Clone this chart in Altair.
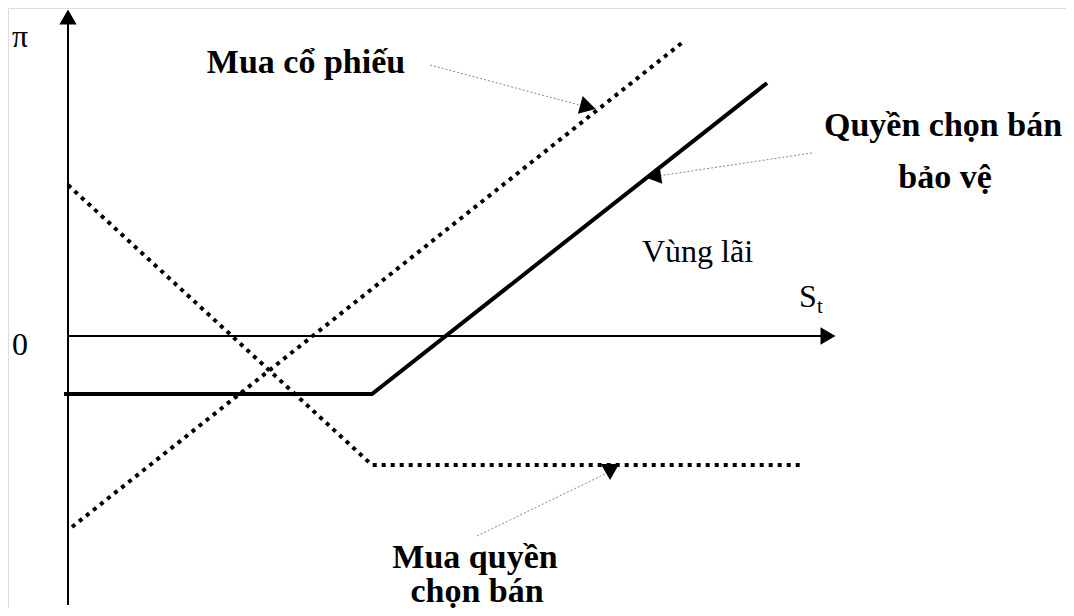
import altair as alt
import pandas as pd

# Coordinates: origin at axis intersection, 1 unit ~ 1 px
prot_x = [-4, 304, 699]
prot_y = [-58, -58, 253]
stock_x = [4, 615]
stock_y = [-191, 294]
put_x = [0, 304, 732]
put_y = [151, -129, -129]

yaxis_x = [0, 0]
yaxis_y = [-269, 312]
xaxis_x = [0, 754]
xaxis_y = [0, 0]

ann1_x = [362, 515]
ann1_y = [271, 230]
ann2_x = [744, 590]
ann2_y = [183, 160]
ann3_x = [409, 537]
ann3_y = [-200, -138]

head_x = [0, 760, 520, 585, 542]
head_y = [319, 0, 229, 160, -136]
head_shape = ["triangle-up", "triangle-right", "triangle-up", "triangle-up", "triangle-down"]
head_angle = [0, 0, 105, 261, 0]
head_size = [300, 300, 340, 340, 340]

bold_text = ["Mua cổ phiếu", "Quyền chọn bán", "bảo vệ", "Mua quyền", "chọn bán"]
bold_x = [238, 875, 877, 407, 409]
bold_y = [263, 200, 148, -232, -266]

reg_text = ["π", "0", "Vùng lãi", "S"]
reg_x = [-48, -48, 574, 740]
reg_y = [289, -19, 74, 29]
reg_align = ["center", "center", "left", "center"]

sub_text = ["t"]
sub_x = [749]
sub_y = [23]

X = alt.Scale(domain=[-60, 998])
Y = alt.Scale(domain=[-272, 328])


def line_df(xs, ys):
    return pd.DataFrame({"x": xs, "y": ys, "o": list(range(len(xs)))})


def line_layer(xs, ys, **kw):
    return alt.Chart(line_df(xs, ys)).mark_line(**kw).encode(
        x=alt.X("x:Q", scale=X, axis=None),
        y=alt.Y("y:Q", scale=Y, axis=None),
        order="o:Q",
    )


layers = []
layers.append(line_layer(yaxis_x, yaxis_y, color="black", strokeWidth=2))
layers.append(line_layer(xaxis_x, xaxis_y, color="black", strokeWidth=2))
layers.append(line_layer(prot_x, prot_y, color="black", strokeWidth=4, strokeJoin="miter"))
layers.append(line_layer(stock_x, stock_y, color="black", strokeWidth=4, strokeDash=[4, 5]))
layers.append(line_layer(put_x, put_y, color="black", strokeWidth=4, strokeDash=[4, 5]))
for ax, ay in [(ann1_x, ann1_y), (ann2_x, ann2_y), (ann3_x, ann3_y)]:
    layers.append(line_layer(ax, ay, color="#888888", strokeWidth=1, strokeDash=[2, 2]))

heads = pd.DataFrame({"x": head_x, "y": head_y, "shape": head_shape,
                      "angle": head_angle, "size": head_size})
layers.append(
    alt.Chart(heads).mark_point(filled=True, color="black", opacity=1).encode(
        x=alt.X("x:Q", scale=X, axis=None),
        y=alt.Y("y:Q", scale=Y, axis=None),
        shape=alt.Shape("shape:N", scale=None, legend=None),
        angle=alt.Angle("angle:Q", scale=None),
        size=alt.Size("size:Q", scale=None, legend=None),
    )
)

bold_df = pd.DataFrame({"x": bold_x, "y": bold_y, "t": bold_text})
layers.append(
    alt.Chart(bold_df).mark_text(font="Liberation Serif", fontWeight="bold", fontSize=34,
                                 baseline="alphabetic", align="center", color="black").encode(
        x=alt.X("x:Q", scale=X, axis=None),
        y=alt.Y("y:Q", scale=Y, axis=None),
        text="t:N",
    )
)

reg_df = pd.DataFrame({"x": reg_x, "y": reg_y, "t": reg_text, "a": reg_align})
for al in ["center", "left"]:
    layers.append(
        alt.Chart(reg_df[reg_df.a == al]).mark_text(font="Liberation Serif", fontSize=32,
                                                    baseline="alphabetic", align=al, color="black").encode(
            x=alt.X("x:Q", scale=X, axis=None),
            y=alt.Y("y:Q", scale=Y, axis=None),
            text="t:N",
        )
    )

sub_df = pd.DataFrame({"x": sub_x, "y": sub_y, "t": sub_text})
layers.append(
    alt.Chart(sub_df).mark_text(font="Liberation Serif", fontSize=21,
                                baseline="alphabetic", align="left", color="black").encode(
        x=alt.X("x:Q", scale=X, axis=None),
        y=alt.Y("y:Q", scale=Y, axis=None),
        text="t:N",
    )
)

chart = alt.layer(*layers).properties(
    width=1058, height=600, padding=0,
    autosize=alt.AutoSizeParams(type="none"),
).configure_view(stroke=None).configure(background="white")

chart.save("out.html", embed_options={"renderer": "svg", "actions": False})
